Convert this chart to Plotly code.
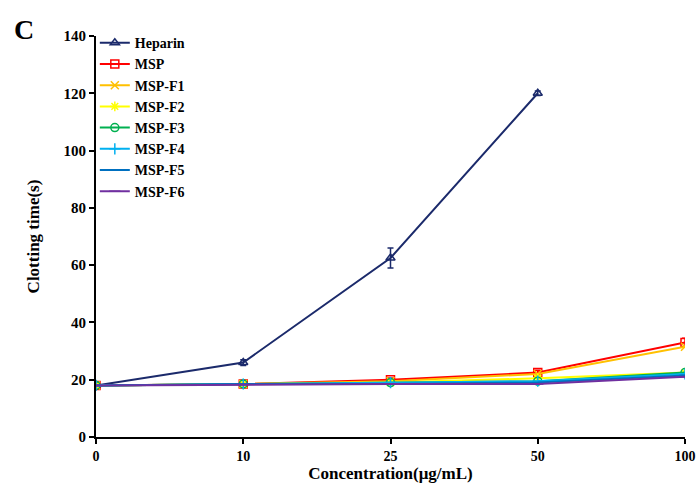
import plotly.graph_objects as go

categories = ["0", "10", "25", "50", "100"]
series_names = ["Heparin", "MSP", "MSP-F1", "MSP-F2", "MSP-F3", "MSP-F4", "MSP-F5", "MSP-F6"]
heparin = [18.0, 26.0, 62.5, 120.0, None]
heparin_err = [0.5, 1.0, 3.5, 0.8, 0]
msp = [18.0, 18.5, 20.0, 22.5, 33.0]
msp_err = [0.5, 0.5, 0.6, 0.8, 1.5]
f1 = [18.0, 18.5, 19.5, 22.0, 31.5]
f2 = [18.0, 18.5, 19.0, 20.5, 22.5]
f3 = [18.0, 18.5, 19.0, 19.5, 22.5]
f4 = [18.0, 18.5, 19.0, 19.5, 22.0]
f5 = [18.0, 18.5, 18.5, 19.0, 21.5]
f6 = [18.0, 18.3, 18.5, 18.5, 21.0]

colors = ["#1B2A6B", "#FF0000", "#FFC000", "#FFFF00", "#00B050", "#00B0F0", "#0070C0", "#7030A0"]
symbols = ["triangle-up-open", "square-open", "x-thin-open", "asterisk-open", "circle-open",
           "cross-thin-open", "line-ew-open", "line-ew-open"]
values = [heparin, msp, f1, f2, f3, f4, f5, f6]
errors = [heparin_err, msp_err, None, None, None, None, None, None]

font = "Liberation Serif"
fig = go.Figure()
for name, vals, col, sym, err in zip(series_names, values, colors, symbols, errors):
    tr = dict(x=categories, y=vals, name="<b>%s</b>" % name, mode="lines+markers",
              line=dict(color=col, width=2),
              marker=dict(symbol=sym, size=8, color=col, line=dict(color=col, width=1.5)))
    if err is not None:
        tr["error_y"] = dict(type="data", array=err, visible=True, color=col, thickness=1.5, width=3)
    fig.add_trace(go.Scatter(**tr))

fig.update_layout(
    width=697, height=484,
    margin=dict(l=96, r=12, t=36, b=47, autoexpand=False),
    paper_bgcolor="white", plot_bgcolor="white",
    font=dict(family=font, size=14, color="black"),
    showlegend=True,
    legend=dict(x=-0.002, y=1.022, xanchor="left", yanchor="top",
                font=dict(family=font, size=14, color="black"),
                bgcolor="rgba(0,0,0,0)", tracegroupgap=0, itemwidth=30),
    xaxis=dict(type="category", range=[0, 4], showline=True, linecolor="black", linewidth=2,
               ticks="outside", ticklen=5, tickwidth=2, tickcolor="black", showgrid=False,
               zeroline=False, automargin=False, ticklabeloverflow="allow",
               tickfont=dict(family=font, size=14, color="black"),
               title=dict(text="<b>Concentration(μg/mL)</b>", font=dict(family=font, size=17), standoff=3)),
    yaxis=dict(range=[0, 140], dtick=20, showline=True, linecolor="black", linewidth=2,
               ticks="outside", ticklen=5, tickwidth=2, tickcolor="black", showgrid=False,
               zeroline=False, automargin=False, tickfont=dict(family=font, size=15, color="black"),
               title=dict(text="<b>Clotting time(s)</b>", font=dict(family=font, size=17), standoff=20)),
)
fig.update_xaxes(tickprefix="<b>", ticksuffix="</b>")
fig.update_yaxes(tickprefix="<b>", ticksuffix="</b>")
fig.add_annotation(text="<b>C</b>", xref="paper", yref="paper", x=-0.1426, y=1.017,
                   xanchor="left", yanchor="middle", showarrow=False,
                   font=dict(family=font, size=28, color="black"))
fig.write_html("out.html", config={"displayModeBar": False},
               post_script="document.body.style.margin='0';document.body.style.overflow='hidden';")
